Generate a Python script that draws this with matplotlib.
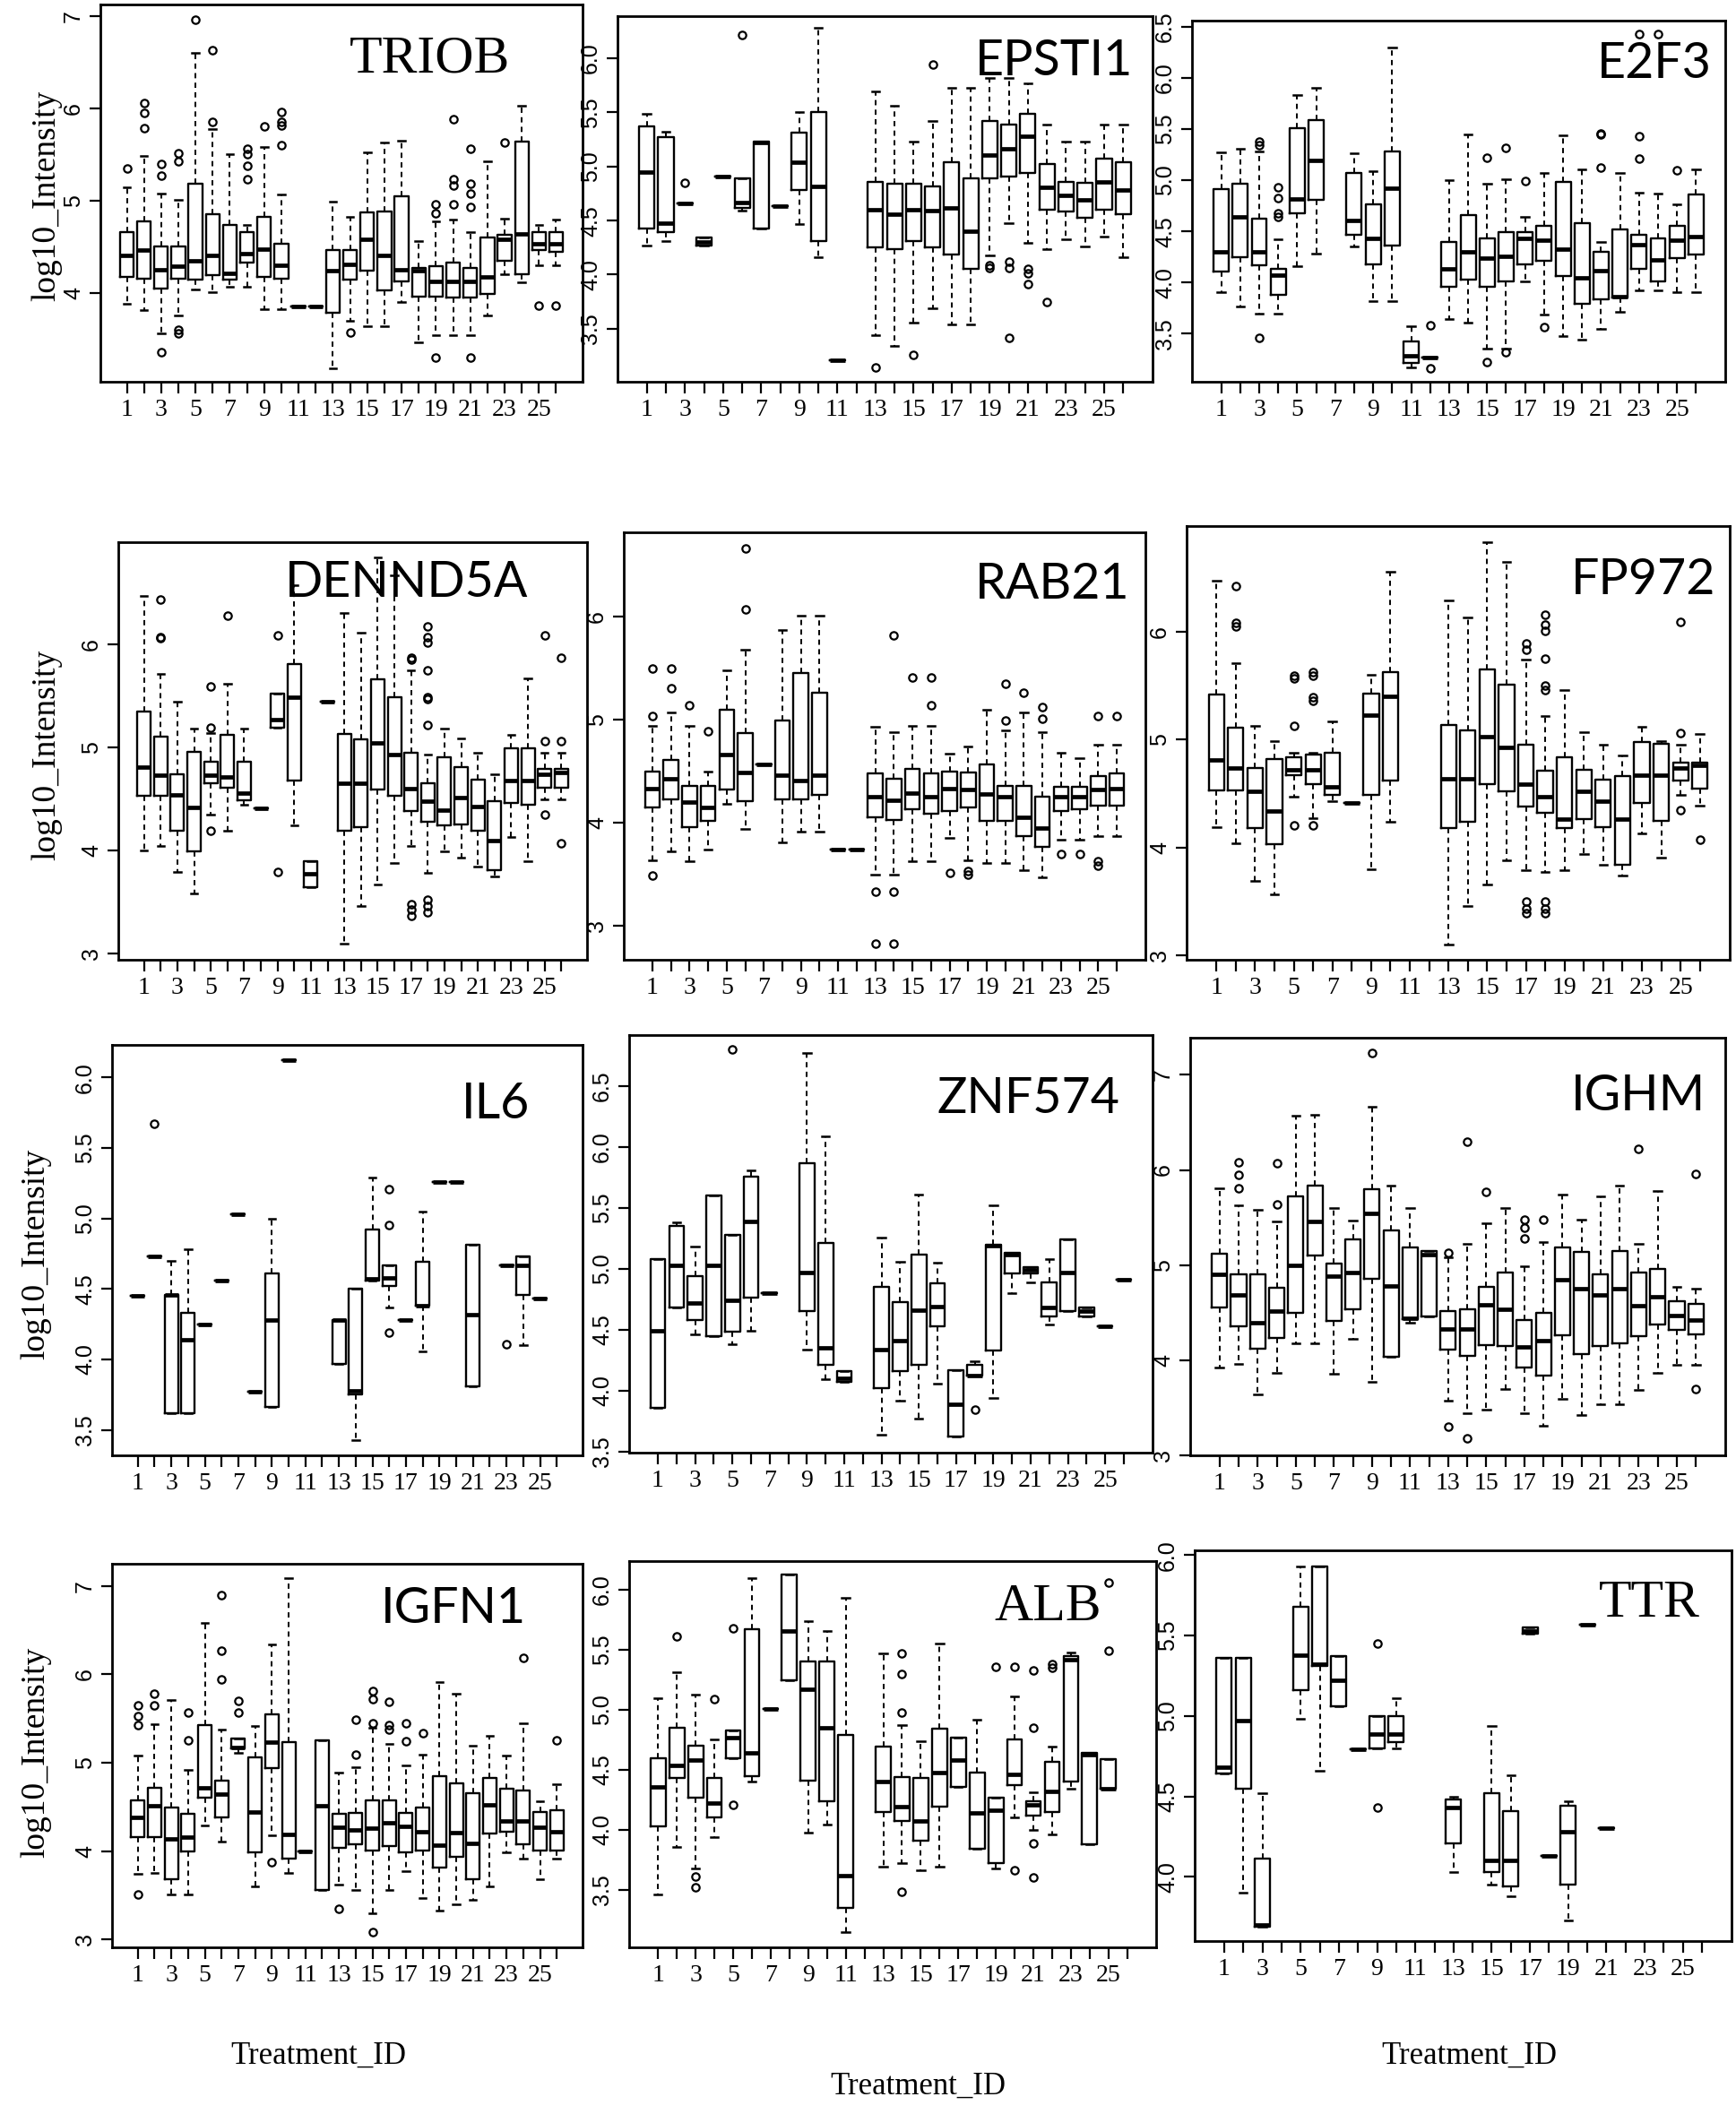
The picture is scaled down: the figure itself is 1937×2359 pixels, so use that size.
import matplotlib
matplotlib.use("Agg")
import matplotlib.pyplot as plt

# each treatment: (whisker low, Q1, median, Q3, whisker high); None = no data
TRIOB = [
    (3.89, 4.18, 4.41, 4.66, 5.15), (3.82, 4.16, 4.47, 4.78, 5.49), (3.56, 4.05, 4.25, 4.51, 5.08),
    (3.76, 4.16, 4.29, 4.51, 5.01), (4.04, 4.15, 4.35, 5.19, 6.61), (4.01, 4.20, 4.41, 4.86, 5.78),
    (4.07, 4.15, 4.22, 4.74, 5.51), (4.07, 4.33, 4.43, 4.66, 4.74), (3.83, 4.18, 4.48, 4.83, 5.59),
    (3.83, 4.16, 4.30, 4.54, 5.07), (3.86, 3.86, 3.86, 3.86, 3.86), (3.86, 3.86, 3.86, 3.86, 3.86),
    (3.19, 3.79, 4.24, 4.47, 4.99), (3.70, 4.15, 4.31, 4.47, 4.83), (3.64, 4.24, 4.58, 4.88, 5.53),
    (3.64, 4.03, 4.41, 4.89, 5.63), (3.90, 4.13, 4.25, 5.05, 5.65), (3.47, 3.96, 4.24, 4.27, 4.57),
    (3.55, 3.96, 4.13, 4.29, 4.78), (3.55, 3.95, 4.13, 4.33, 4.80), (3.55, 3.95, 4.13, 4.27, 4.66),
    (3.76, 3.99, 4.18, 4.60, 5.43), (4.21, 4.35, 4.58, 4.63, 4.81), (4.12, 4.21, 4.64, 5.64, 6.03),
    (4.30, 4.47, 4.54, 4.66, 4.74), (4.30, 4.45, 4.54, 4.66, 4.80),
]
TRIOB_out = {1: [5.35], 2: [6.06, 5.95, 5.79], 3: [5.40, 5.27, 3.36], 4: [5.52, 5.43, 3.60, 3.56],
             5: [6.96], 6: [6.63, 5.86], 8: [5.57, 5.51, 5.38, 5.24], 9: [5.81],
             10: [5.96, 5.86, 5.82, 5.60], 14: [3.57], 19: [4.96, 4.87, 3.30],
             20: [5.89, 5.24, 5.17, 4.96], 21: [5.57, 5.19, 5.08, 4.93, 3.30], 23: [5.63],
             25: [3.87], 26: [3.87]}

EPSTI1 = [
    (4.27, 4.43, 4.95, 5.37, 5.49), (4.31, 4.39, 4.48, 5.27, 5.32), (4.66, 4.66, 4.66, 4.66, 4.66),
    (4.27, 4.27, 4.30, 4.34, 4.34), (4.91, 4.91, 4.91, 4.91, 4.91), (4.59, 4.62, 4.67, 4.89, 4.89),
    (4.43, 4.43, 5.22, 5.23, 5.23), (4.63, 4.63, 4.63, 4.63, 4.63), (4.47, 4.78, 5.04, 5.31, 5.50),
    (4.16, 4.31, 4.82, 5.50, 6.28), (3.21, 3.21, 3.21, 3.21, 3.21), None,
    (3.44, 4.25, 4.60, 4.86, 5.69), (3.34, 4.24, 4.56, 4.84, 5.56), (3.56, 4.31, 4.60, 4.84, 5.23),
    (3.69, 4.25, 4.59, 4.82, 5.42), (3.54, 4.19, 4.62, 5.04, 5.73), (3.54, 4.05, 4.40, 4.89, 5.73),
    (4.18, 4.89, 5.11, 5.42, 5.82), (4.48, 4.91, 5.16, 5.39, 5.82), (4.29, 4.94, 5.28, 5.49, 5.77),
    (4.24, 4.60, 4.81, 5.02, 5.39), (4.33, 4.58, 4.73, 4.86, 5.23), (4.26, 4.53, 4.69, 4.85, 5.23),
    (4.35, 4.60, 4.86, 5.07, 5.39), (4.16, 4.56, 4.78, 5.04, 5.39),
]
EPSTI1_out = {3: [4.85], 6: [6.22], 13: [3.14], 15: [3.26], 16: [5.94], 19: [4.09, 4.06],
              20: [4.12, 4.06, 3.42], 21: [4.05, 4.01, 3.91], 22: [3.75]}

E2F3 = [
    (3.91, 4.11, 4.30, 4.91, 5.27), (3.77, 4.25, 4.64, 4.97, 5.31), (3.70, 4.17, 4.30, 4.62, 5.28),
    (3.70, 3.88, 4.07, 4.13, 4.42), (4.16, 4.68, 4.82, 5.51, 5.83), (4.28, 4.81, 5.19, 5.59, 5.90),
    None, (4.35, 4.47, 4.61, 5.07, 5.26), (3.82, 4.18, 4.43, 4.76, 5.09),
    (3.82, 4.36, 4.92, 5.28, 6.30), (3.17, 3.21, 3.28, 3.42, 3.57), (3.27, 3.27, 3.27, 3.27, 3.27),
    (3.64, 3.96, 4.13, 4.40, 5.00), (3.61, 4.03, 4.30, 4.66, 5.45), (3.35, 3.96, 4.24, 4.43, 4.97),
    (3.35, 4.01, 4.26, 4.49, 5.01), (4.01, 4.18, 4.43, 4.49, 4.64), (3.69, 4.21, 4.41, 4.55, 5.07),
    (3.48, 4.06, 4.33, 4.98, 5.44), (3.44, 3.79, 4.05, 4.58, 5.11), (3.55, 3.84, 4.12, 4.30, 4.40),
    (3.71, 3.85, 3.86, 4.52, 5.07), (3.92, 4.13, 4.37, 4.47, 4.88), (3.92, 4.01, 4.22, 4.43, 4.87),
    (3.91, 4.24, 4.41, 4.55, 4.76), (3.91, 4.27, 4.45, 4.86, 5.11),
]
E2F3_out = {3: [5.38, 5.34, 3.46], 4: [4.93, 4.83, 4.68, 4.64], 12: [3.58, 3.16], 15: [5.22, 3.22],
            16: [5.32, 3.32], 17: [4.99], 18: [3.56], 21: [5.46, 5.45, 5.12],
            23: [6.43, 5.43, 5.21], 24: [6.43], 25: [5.10]}

DENND5A = [
    (4.00, 4.53, 4.81, 5.35, 6.47), (4.04, 4.53, 4.73, 5.10, 5.71), (3.79, 4.19, 4.54, 4.74, 5.44),
    (3.58, 3.99, 4.42, 4.96, 5.18), (4.35, 4.65, 4.73, 4.86, 5.14), (4.19, 4.61, 4.71, 5.12, 5.62),
    (4.44, 4.49, 4.56, 4.86, 5.18), (4.41, 4.41, 4.41, 4.41, 4.41), (5.19, 5.19, 5.27, 5.52, 5.52),
    (4.24, 4.68, 5.49, 5.81, 6.57), (3.64, 3.64, 3.77, 3.90, 3.90), (5.44, 5.44, 5.44, 5.44, 5.44),
    (3.10, 4.19, 4.65, 5.13, 6.30), (3.46, 4.23, 4.65, 5.08, 6.11), (3.67, 4.59, 5.04, 5.66, 6.84),
    (3.88, 4.53, 4.93, 5.49, 6.67), (4.04, 4.38, 4.60, 4.95, 5.75), (3.78, 4.28, 4.48, 4.65, 4.93),
    (3.99, 4.24, 4.39, 4.90, 5.18), (3.93, 4.25, 4.51, 4.81, 5.09), (3.84, 4.19, 4.43, 4.69, 4.95),
    (3.75, 3.81, 4.10, 4.48, 4.74), (4.13, 4.46, 4.68, 4.99, 5.12), (3.90, 4.44, 4.68, 4.99, 5.67),
    (4.50, 4.61, 4.74, 4.79, 4.95), (4.50, 4.61, 4.76, 4.79, 4.95),
]
DENND5A_out = {2: [6.43, 6.07, 6.06], 5: [5.59, 5.19, 4.19], 6: [6.28], 9: [6.09, 3.79],
               17: [5.87, 5.85, 3.48, 3.43, 3.37],
               18: [6.17, 6.07, 6.02, 5.75, 5.49, 5.47, 5.22, 3.52, 3.46, 3.40],
               25: [6.09, 5.06, 4.35], 26: [5.87, 5.06, 4.07]}

RAB21 = [
    (3.64, 4.15, 4.33, 4.50, 4.94), (3.72, 4.23, 4.43, 4.61, 5.07), (3.63, 3.96, 4.20, 4.36, 4.94),
    (3.74, 4.02, 4.15, 4.36, 4.50), (4.18, 4.32, 4.66, 5.10, 5.48), (3.94, 4.21, 4.49, 4.87, 5.68),
    (4.57, 4.57, 4.57, 4.57, 4.57), (3.81, 4.23, 4.46, 4.99, 5.87), (3.91, 4.23, 4.41, 5.45, 6.01),
    (3.91, 4.27, 4.46, 5.26, 6.01), (3.74, 3.74, 3.74, 3.74, 3.74), (3.74, 3.74, 3.74, 3.74, 3.74),
    (3.50, 4.05, 4.25, 4.48, 4.93), (3.50, 4.03, 4.22, 4.43, 4.88), (3.63, 4.13, 4.29, 4.52, 4.94),
    (3.63, 4.09, 4.25, 4.48, 4.94), (3.85, 4.11, 4.33, 4.50, 4.67), (3.64, 4.15, 4.32, 4.49, 4.74),
    (3.61, 4.02, 4.28, 4.57, 5.10), (3.61, 4.02, 4.25, 4.36, 4.90), (3.54, 3.87, 4.05, 4.36, 5.07),
    (3.47, 3.77, 3.95, 4.25, 4.88), (3.84, 4.11, 4.25, 4.35, 4.68), (3.84, 4.13, 4.25, 4.35, 4.63),
    (3.87, 4.17, 4.32, 4.45, 4.76), (3.87, 4.17, 4.33, 4.48, 4.76),
]
RAB21_out = {1: [5.50, 5.04, 3.49], 2: [5.50, 5.31], 3: [5.14], 4: [4.89], 6: [6.66, 6.07],
             13: [3.33, 2.83], 14: [5.82, 3.33, 2.83], 15: [5.41], 16: [5.41, 5.14], 17: [3.51],
             18: [3.53, 3.50], 20: [5.35, 4.99], 21: [5.26], 22: [5.12, 5.01], 23: [3.70],
             24: [3.70], 25: [5.04, 3.63, 3.58], 26: [5.04]}

FP972 = [
    (4.19, 4.53, 4.81, 5.42, 6.47), (4.04, 4.53, 4.74, 5.11, 5.71), (3.69, 4.18, 4.52, 4.74, 5.13),
    (3.57, 4.03, 4.34, 4.82, 4.99), (4.47, 4.67, 4.72, 4.84, 4.88), (4.27, 4.59, 4.72, 4.86, 4.88),
    (4.43, 4.49, 4.56, 4.88, 5.17), (4.41, 4.41, 4.41, 4.41, 4.41), (3.80, 4.49, 5.23, 5.43, 5.60),
    (4.24, 4.62, 5.40, 5.63, 6.56), None, None,
    (3.10, 4.18, 4.64, 5.14, 6.29), (3.46, 4.24, 4.64, 5.09, 6.13), (3.66, 4.59, 5.03, 5.65, 6.83),
    (3.88, 4.52, 4.93, 5.51, 6.65), (3.79, 4.38, 4.59, 4.95, 5.74), (3.77, 4.32, 4.47, 4.71, 5.22),
    (3.79, 4.18, 4.26, 4.84, 5.46), (3.94, 4.26, 4.52, 4.72, 5.07), (3.84, 4.19, 4.43, 4.63, 4.95),
    (3.74, 3.84, 4.26, 4.66, 4.85), (4.13, 4.41, 4.67, 4.98, 5.12), (3.91, 4.25, 4.67, 4.96, 4.99),
    (4.49, 4.62, 4.74, 4.79, 4.95), (4.39, 4.55, 4.76, 4.79, 5.05),
]
FP972_out = {2: [6.42, 6.08, 6.05], 5: [5.59, 5.57, 5.13, 4.21], 6: [5.63, 5.59, 5.39, 5.36, 4.21],
             17: [5.89, 5.83, 3.50, 3.43, 3.39],
             18: [6.16, 6.07, 6.01, 5.75, 5.50, 5.46, 3.50, 3.43, 3.39],
             25: [6.09, 5.06, 4.35], 26: [4.07]}

IL6 = [
    (4.45, 4.45, 4.45, 4.45, 4.45), (4.73, 4.73, 4.73, 4.73, 4.73), (3.62, 3.62, 4.46, 4.46, 4.70),
    (3.62, 3.62, 4.14, 4.33, 4.78), (4.25, 4.25, 4.25, 4.25, 4.25), (4.56, 4.56, 4.56, 4.56, 4.56),
    (5.03, 5.03, 5.03, 5.03, 5.03), (3.77, 3.77, 3.77, 3.77, 3.77), (3.66, 3.66, 4.28, 4.61, 5.00),
    (6.12, 6.12, 6.12, 6.12, 6.12), None, None,
    (3.97, 3.97, 4.28, 4.28, 4.28), (3.43, 3.75, 3.78, 4.50, 4.50), (4.56, 4.56, 4.57, 4.92, 5.29),
    (4.37, 4.52, 4.58, 4.67, 4.67), (4.28, 4.28, 4.28, 4.28, 4.28), (4.06, 4.38, 4.38, 4.69, 5.05),
    (5.26, 5.26, 5.26, 5.26, 5.26), (5.26, 5.26, 5.26, 5.26, 5.26), (3.81, 3.81, 4.32, 4.81, 4.81),
    None, (4.67, 4.67, 4.67, 4.67, 4.67), (4.10, 4.46, 4.67, 4.73, 4.73),
    (4.43, 4.43, 4.43, 4.43, 4.43), None,
]
IL6_out = {2: [5.67], 16: [5.21, 4.95, 4.19], 23: [4.11]}

ZNF574 = [
    (3.86, 3.86, 4.49, 5.08, 5.08), (4.68, 4.68, 5.03, 5.35, 5.38), (4.46, 4.58, 4.72, 4.94, 5.18),
    (4.45, 4.45, 5.03, 5.60, 5.60), (4.38, 4.48, 4.74, 5.28, 5.28), (4.49, 4.76, 5.39, 5.76, 5.81),
    (4.80, 4.80, 4.80, 4.80, 4.80), None, (4.34, 4.65, 4.97, 5.87, 6.77),
    (4.09, 4.21, 4.35, 5.21, 6.09), (4.07, 4.07, 4.10, 4.16, 4.16), None,
    (3.64, 4.02, 4.34, 4.85, 5.26), (3.92, 4.16, 4.41, 4.73, 5.06), (3.77, 4.21, 4.66, 5.12, 5.61),
    (4.06, 4.53, 4.69, 4.88, 5.05), (3.62, 3.62, 3.89, 4.17, 4.17), (4.12, 4.12, 4.12, 4.21, 4.24),
    (3.94, 4.33, 5.19, 5.20, 5.52), (4.80, 4.96, 5.12, 5.13, 5.13), (4.89, 4.96, 4.99, 5.01, 5.01),
    (4.54, 4.61, 4.68, 4.89, 5.08), (4.65, 4.65, 4.97, 5.24, 5.24), (4.61, 4.61, 4.65, 4.68, 4.68),
    (4.53, 4.53, 4.53, 4.53, 4.53), (4.91, 4.91, 4.91, 4.91, 4.91),
]
ZNF574_out = {5: [6.80], 18: [3.84]}

IGHM = [
    (3.92, 4.55, 4.90, 5.12, 5.81), (3.96, 4.36, 4.69, 4.90, 5.63), (3.64, 4.12, 4.39, 4.90, 5.58),
    (3.87, 4.23, 4.52, 4.76, 5.46), (4.18, 4.50, 5.00, 5.72, 6.57), (4.18, 5.10, 5.46, 5.84, 6.58),
    (3.86, 4.41, 4.88, 5.02, 5.60), (4.22, 4.54, 4.92, 5.27, 5.47), (3.77, 4.86, 5.54, 5.80, 6.66),
    (4.04, 4.04, 4.78, 5.36, 5.84), (4.39, 4.43, 4.44, 5.19, 5.60), (4.46, 4.46, 5.11, 5.15, 5.15),
    (3.57, 4.11, 4.33, 4.52, 5.08), (3.44, 4.05, 4.33, 4.54, 5.22), (3.48, 4.16, 4.58, 4.77, 5.44),
    (3.70, 4.15, 4.54, 4.92, 5.60), (3.44, 3.92, 4.14, 4.42, 4.99), (3.31, 3.84, 4.21, 4.50, 5.24),
    (3.59, 4.26, 4.85, 5.19, 5.74), (3.42, 4.06, 4.75, 5.14, 5.48), (3.54, 4.15, 4.69, 4.90, 5.72),
    (3.54, 4.18, 4.75, 5.15, 5.84), (3.69, 4.25, 4.57, 4.92, 5.22), (3.87, 4.38, 4.67, 4.96, 5.78),
    (3.95, 4.32, 4.47, 4.62, 4.77), (3.95, 4.27, 4.42, 4.59, 4.75),
]
IGHM_out = {2: [6.08, 5.95, 5.81], 4: [6.07, 5.64], 9: [7.23], 13: [5.13, 3.30], 14: [6.30, 3.18],
            15: [5.77], 17: [5.48, 5.39, 5.28], 18: [5.48], 23: [6.22], 26: [5.96, 3.70]}

IGFN1 = [
    (3.74, 4.16, 4.38, 4.57, 5.08), (3.75, 4.16, 4.51, 4.72, 5.43), (3.51, 3.68, 4.14, 4.49, 5.71),
    (3.51, 3.99, 4.16, 4.42, 4.92), (4.29, 4.60, 4.71, 5.42, 6.58), (4.11, 4.38, 4.64, 4.80, 5.37),
    (5.11, 5.16, 5.17, 5.27, 5.27), (3.60, 3.98, 4.44, 5.06, 5.41), (4.18, 4.94, 5.23, 5.55, 6.34),
    (3.75, 3.91, 4.19, 5.23, 7.09), (3.99, 3.99, 3.99, 3.99, 3.99), (3.56, 3.56, 4.51, 5.25, 5.25),
    (3.62, 4.04, 4.27, 4.42, 4.89), (3.56, 4.08, 4.24, 4.43, 4.95), (3.30, 4.01, 4.26, 4.57, 5.39),
    (3.56, 4.06, 4.32, 4.57, 5.21), (3.77, 3.98, 4.28, 4.43, 4.97), (3.47, 4.01, 4.22, 4.49, 5.09),
    (3.33, 3.81, 4.07, 4.85, 5.91), (3.40, 3.93, 4.21, 4.77, 5.78), (3.45, 3.68, 4.09, 4.65, 5.19),
    (3.60, 4.20, 4.52, 4.83, 5.30), (3.98, 4.22, 4.34, 4.70, 5.08), (3.91, 4.08, 4.34, 4.68, 5.45),
    (3.68, 4.01, 4.27, 4.44, 4.56), (3.91, 4.01, 4.22, 4.46, 4.76),
]
IGFN1_out = {1: [5.65, 5.53, 5.42, 3.51], 2: [5.78, 5.65], 4: [5.57, 5.25], 6: [6.90, 6.27, 5.94],
             7: [5.70, 5.57], 9: [3.87], 13: [3.35], 14: [5.49, 5.09], 15: [5.81, 5.72, 5.45, 3.08],
             16: [5.69, 5.42, 5.37], 17: [5.45, 5.24], 18: [5.33], 24: [6.19], 26: [5.25]}

ALB = [
    (3.46, 4.03, 4.36, 4.60, 5.10), (3.86, 4.43, 4.54, 4.85, 5.31), (3.68, 4.27, 4.58, 4.70, 5.13),
    (3.94, 4.10, 4.22, 4.43, 4.75), (4.60, 4.60, 4.77, 4.83, 4.83), (4.40, 4.45, 4.64, 5.67, 6.10),
    (5.01, 5.01, 5.01, 5.01, 5.01), (5.25, 5.25, 5.66, 6.13, 6.13), (3.98, 4.41, 5.17, 5.40, 5.74),
    (4.04, 4.24, 4.85, 5.40, 5.66), (3.15, 3.35, 3.62, 4.79, 5.93), None,
    (3.69, 4.15, 4.40, 4.69, 5.47), (3.72, 4.07, 4.19, 4.44, 4.87), (3.66, 3.91, 4.07, 4.43, 4.74),
    (3.69, 4.19, 4.48, 4.84, 5.55), (4.36, 4.36, 4.58, 4.77, 4.77), (3.84, 3.84, 4.14, 4.48, 4.92),
    (3.68, 3.72, 4.16, 4.27, 4.27), (4.10, 4.37, 4.46, 4.75, 5.11), (4.00, 4.12, 4.21, 4.24, 4.31),
    (3.96, 4.15, 4.32, 4.57, 4.69), (4.34, 4.40, 5.42, 5.45, 5.48), (3.88, 3.88, 4.63, 4.64, 4.64),
    (4.34, 4.34, 4.34, 4.59, 4.59), None,
]
ALB_out = {2: [5.61], 3: [3.61, 3.52], 4: [5.09], 5: [5.68, 4.21], 14: [5.47, 5.30, 4.98, 3.48],
           19: [5.36], 20: [5.36, 3.66], 21: [5.33, 4.85, 3.89, 3.60], 22: [5.38, 5.35],
           25: [6.06, 5.49]}

TTR = [
    (4.64, 4.64, 4.68, 5.36, 5.36), (3.90, 4.55, 4.97, 5.36, 5.36), (3.69, 3.69, 3.70, 4.11, 4.52),
    None, (4.98, 5.16, 5.38, 5.68, 5.93), (4.66, 5.31, 5.32, 5.93, 5.93),
    (5.06, 5.06, 5.22, 5.37, 5.37), (4.79, 4.79, 4.79, 4.79, 4.79), (4.80, 4.80, 4.89, 5.00, 5.00),
    (4.80, 4.84, 4.89, 5.00, 5.11), None, None,
    (4.03, 4.21, 4.43, 4.48, 4.50), None, (3.95, 4.03, 4.10, 4.52, 4.94),
    (3.88, 3.94, 4.10, 4.41, 4.63), (5.51, 5.51, 5.53, 5.55, 5.55), (4.13, 4.13, 4.13, 4.13, 4.13),
    (3.73, 3.95, 4.28, 4.44, 4.47), (5.57, 5.57, 5.57, 5.57, 5.57), (4.30, 4.30, 4.30, 4.30, 4.30),
    None, None, None, None, None,
]
TTR_out = {9: [5.45, 4.43]}

treatments = list(range(1, 27))

# ---- layout, in pixels of the 1937 x 2359 canvas
W, H = 1937, 2359
SERIF = "Liberation Serif"
SANS = "Liberation Sans"
TITLE_SANS = "Lato"

panels = [
    # name, rows, fliers, (left, top, right, bottom), ylim, yticks, title font,
    # title anchor (right edge, baseline) in data units
    ("TRIOB", TRIOB, TRIOB_out, (112, 5, 650, 426), (3.04, 7.13), [4, 5, 6, 7], SERIF, (23.3, 6.40)),
    ("EPSTI1", EPSTI1, EPSTI1_out, (689, 18, 1286, 426), (3.01, 6.39),
     [3.5, 4.0, 4.5, 5.0, 5.5, 6.0], TITLE_SANS, (26.5, 5.84)),
    ("E2F3", E2F3, E2F3_out, (1330, 23, 1925, 426), (3.03, 6.56),
     [3.5, 4.0, 4.5, 5.0, 5.5, 6.0, 6.5], TITLE_SANS, (26.8, 6.0)),
    ("DENND5A", DENND5A, DENND5A_out, (132, 605, 655, 1071), (2.94, 6.99), [3, 4, 5, 6],
     TITLE_SANS, (24.0, 6.46)),
    ("RAB21", RAB21, RAB21_out, (696, 594, 1278, 1071), (2.67, 6.82), [3, 4, 5, 6],
     TITLE_SANS, (26.7, 6.18)),
    ("FP972", FP972, FP972_out, (1324, 587, 1930, 1071), (2.96, 6.98), [3, 4, 5, 6],
     TITLE_SANS, (26.8, 6.35)),
    ("IL6", IL6, IL6_out, (125, 1166, 650, 1624), (3.32, 6.23), [3.5, 4.0, 4.5, 5.0, 5.5, 6.0],
     TITLE_SANS, (24.4, 5.71)),
    ("ZNF574", ZNF574, ZNF574_out, (702, 1155, 1286, 1621), (3.49, 6.92),
     [3.5, 4.0, 4.5, 5.0, 5.5, 6.0, 6.5], TITLE_SANS, (25.8, 6.28)),
    ("IGHM", IGHM, IGHM_out, (1328, 1158, 1925, 1624), (3.0, 7.39), [3, 4, 5, 6, 7],
     TITLE_SANS, (26.5, 6.63)),
    ("IGFN1", IGFN1, IGFN1_out, (125, 1745, 650, 2173), (2.91, 7.25), [3, 4, 5, 6, 7],
     TITLE_SANS, (24.2, 6.58)),
    ("ALB", ALB, ALB_out, (702, 1742, 1290, 2173), (3.02, 6.24), [3.5, 4.0, 4.5, 5.0, 5.5, 6.0],
     SERIF, (24.6, 5.75)),
    ("TTR", TTR, TTR_out, (1333, 1730, 1932, 2166), (3.60, 6.03), [4.0, 4.5, 5.0, 5.5, 6.0],
     SERIF, (25.9, 5.62)),
]

fig = plt.figure(figsize=(W / 100, H / 100), dpi=100)
fig.patch.set_facecolor("white")

for name, rows, out, (l, t, r, b), ylim, yticks, tfont, (tx, ty) in panels:
    ax = fig.add_axes([l / W, 1 - b / H, (r - l) / W, (b - t) / H])
    pos, stats = [], []
    for k, s in zip(treatments, rows):
        if s is None:
            continue
        pos.append(k)
        stats.append(dict(whislo=s[0], q1=s[1], med=s[2], q3=s[3], whishi=s[4],
                          fliers=out.get(k, [])))
    ax.bxp(stats, positions=pos, widths=0.8, capwidths=0.4,
           boxprops=dict(color="black", lw=1.7),
           whiskerprops=dict(color="black", lw=1.4, linestyle=(0, (3, 2.5))),
           capprops=dict(color="black", lw=1.8),
           medianprops=dict(color="black", lw=3.4, solid_capstyle="butt"),
           flierprops=dict(marker="o", mfc="none", mec="black", ms=6, mew=1.6))
    ax.set_xlim(-0.54, 27.54)
    ax.set_ylim(*ylim)
    ax.set_xticks(treatments)
    ax.set_xticklabels([str(k) if k % 2 else "" for k in treatments],
                       fontfamily=SERIF, fontsize=20)
    ax.set_yticks(yticks)
    fmt = "{:.0f}" if all(float(v).is_integer() for v in yticks) else "{:.1f}"
    ax.set_yticklabels([fmt.format(v) for v in yticks], fontfamily=SANS, fontsize=18,
                       rotation=90, va="center")
    ax.tick_params(axis="both", direction="out", length=9, width=1.6, color="black")
    ax.tick_params(axis="x", pad=5)
    ax.tick_params(axis="y", pad=4)
    for sp in ax.spines.values():
        sp.set_linewidth(2.0)
    ax.text(tx, ty, name, ha="right", va="baseline", fontfamily=tfont,
            fontsize=43 if tfont == SERIF else 40, color="black", zorder=1)

# shared axis titles
for yc, xc in [(218, 52), (842, 52), (1399, 40), (1955, 40)]:
    fig.text(xc / W, 1 - yc / H, "log10_Intensity", rotation=90, ha="center", va="center",
             fontfamily=SERIF, fontsize=27)
for xc, yc in [(355, 2294), (1024, 2328), (1639, 2294)]:
    fig.text(xc / W, 1 - yc / H, "Treatment_ID", ha="center", va="center",
             fontfamily=SERIF, fontsize=25)

fig.savefig("out.png", dpi=100)
